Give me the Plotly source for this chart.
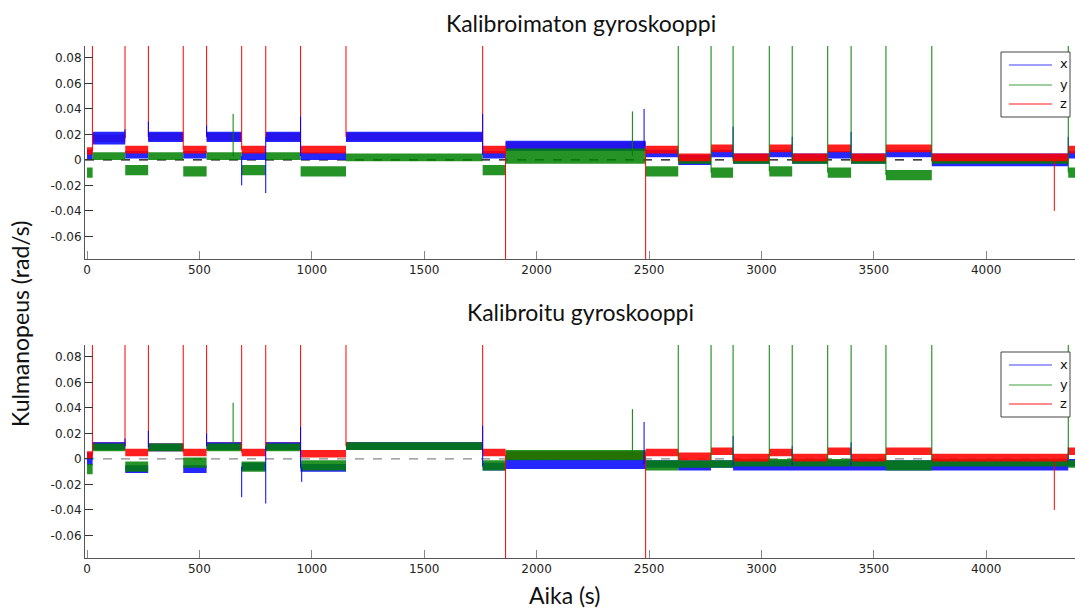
import numpy as np
import plotly.graph_objects as go

# ---------------- data ----------------
# segment boundaries (s), shared by all series
bounds = [0, 25, 170, 272, 428, 532, 688, 795, 950, 1152, 1760, 1862, 2485,
          2630, 2776, 2874, 3035, 3137, 3295, 3399, 3554, 3758, 4365, 4400]

# Uncalibrated (top): segment centre levels and noise half-widths (rad/s)
top_x_level = [0.004, 0.017, 0.004, 0.018, 0.004, 0.018, 0.003, 0.018, 0.003, 0.018, 0.004, 0.011,
               0.005, 0.000, 0.005, 0.001, 0.005, 0.001, 0.004, 0.001, 0.005, 0.000, 0.004]
top_x_noise = [0.004, 0.005, 0.003, 0.004, 0.003, 0.004, 0.003, 0.004, 0.003, 0.004, 0.003, 0.004,
               0.003, 0.004, 0.003, 0.004, 0.003, 0.004, 0.003, 0.004, 0.003, 0.005, 0.003]
top_y_level = [-0.010, 0.003, -0.008, 0.003, -0.009, 0.003, -0.008, 0.003, -0.009, 0.002, -0.008, 0.003,
               -0.009, -0.001, -0.010, -0.001, -0.009, -0.001, -0.010, -0.001, -0.012, -0.001, -0.010]
top_y_noise = [0.004, 0.003, 0.004, 0.003, 0.004, 0.003, 0.004, 0.003, 0.004, 0.003, 0.004, 0.006,
               0.004, 0.002, 0.004, 0.002, 0.004, 0.002, 0.004, 0.002, 0.004, 0.002, 0.004]
top_z_level = [0.007, 0.017, 0.008, 0.018, 0.008, 0.018, 0.008, 0.018, 0.008, 0.018, 0.008, 0.011,
               0.008, 0.002, 0.009, 0.002, 0.009, 0.002, 0.009, 0.002, 0.009, 0.002, 0.008]
top_z_noise = [0.003, 0.003, 0.003, 0.003, 0.003, 0.003, 0.003, 0.003, 0.003, 0.003, 0.003, 0.003,
               0.003, 0.003, 0.003, 0.003, 0.003, 0.003, 0.003, 0.003, 0.003, 0.003, 0.003]

# Calibrated (bottom)
bot_x_level = [0.000, 0.010, -0.008, 0.009, -0.008, 0.010, -0.006, 0.010, -0.007, 0.010, -0.006, -0.004,
               -0.004, -0.005, -0.004, -0.005, -0.005, -0.005, -0.005, -0.005, -0.005, -0.005, -0.003]
bot_x_noise = [0.005, 0.003, 0.003, 0.003, 0.003, 0.003, 0.003, 0.003, 0.003, 0.003, 0.003, 0.004,
               0.003, 0.004, 0.003, 0.004, 0.004, 0.004, 0.004, 0.004, 0.004, 0.004, 0.003]
bot_y_level = [-0.008, 0.009, -0.006, 0.009, -0.003, 0.009, -0.006, 0.009, -0.005, 0.010, -0.005, 0.003,
               -0.005, -0.004, -0.004, -0.003, -0.003, -0.003, -0.003, -0.003, -0.005, -0.003, -0.004]
bot_y_noise = [0.004, 0.003, 0.004, 0.003, 0.004, 0.003, 0.004, 0.003, 0.004, 0.003, 0.004, 0.004,
               0.004, 0.003, 0.003, 0.003, 0.003, 0.003, 0.003, 0.003, 0.004, 0.003, 0.003]
bot_z_level = [0.003, 0.010, 0.005, 0.009, 0.005, 0.010, 0.005, 0.010, 0.004, 0.010, 0.005, 0.003,
               0.005, 0.002, 0.006, 0.001, 0.005, 0.001, 0.006, 0.001, 0.006, 0.001, 0.006]
bot_z_noise = [0.003, 0.003, 0.003, 0.003, 0.003, 0.003, 0.003, 0.003, 0.003, 0.003, 0.003, 0.003,
               0.003, 0.003, 0.003, 0.003, 0.003, 0.003, 0.003, 0.003, 0.003, 0.003, 0.003]

# single-sample spikes: times (s) and peak values (rad/s); 0.1 = beyond top, -0.1 = beyond bottom
top_z_spike_t = [24, 169, 273, 428, 532, 688, 795, 950, 1152, 1760, 1862, 2485, 4303]
top_z_spike_v = [0.1, 0.1, 0.1, 0.1, 0.1, 0.1, 0.1, 0.1, 0.1, 0.1, -0.1, -0.1, -0.04]
top_y_spike_t = [650, 2426, 2630, 2776, 2874, 3035, 3137, 3295, 3399, 3554, 3758, 4365]
top_y_spike_v = [0.036, 0.038, 0.1, 0.1, 0.1, 0.1, 0.1, 0.1, 0.1, 0.1, 0.1, 0.1]
top_x_spike_t = [169, 273, 532, 688, 795, 950, 1760, 2478, 2874, 3137, 3399, 4365]
top_x_spike_v = [0.024, 0.030, 0.027, -0.020, -0.026, 0.034, 0.036, 0.040, 0.026, 0.018, 0.022, 0.018]

bot_z_spike_t = [24, 169, 273, 428, 532, 688, 795, 950, 1152, 1760, 1862, 2485, 4303]
bot_z_spike_v = [0.1, 0.1, 0.1, 0.1, 0.1, 0.1, 0.1, 0.1, 0.1, 0.1, -0.1, -0.1, -0.04]
bot_y_spike_t = [650, 2426, 2630, 2776, 2874, 3035, 3137, 3295, 3399, 3554, 3758, 4365]
bot_y_spike_v = [0.044, 0.039, 0.1, 0.1, 0.1, 0.1, 0.1, 0.1, 0.1, 0.1, 0.1, 0.1]
bot_x_spike_t = [169, 273, 532, 688, 795, 950, 955, 1760, 2478, 2874, 3137, 3399, 4365]
bot_x_spike_v = [0.016, 0.022, 0.020, -0.030, -0.035, 0.025, -0.018, 0.026, 0.029, 0.018, 0.010, 0.013, 0.009]

x_ticks = [0, 500, 1000, 1500, 2000, 2500, 3000, 3500, 4000]
y_ticks = [-0.06, -0.04, -0.02, 0, 0.02, 0.04, 0.06, 0.08]
y_tick_labels = ["-0.06", "-0.04", "-0.02", "0", "0.02", "0.04", "0.06", "0.08"]
series_names = ["x", "y", "z"]
titles = ["Kalibroimaton gyroskooppi", "Kalibroitu gyroskooppi"]

# ---------------- figure ----------------
W, H = 1075, 609
colors = {"x": "#0000ff", "y": "#008000", "z": "#ff0000"}
fills = {"x": "rgba(20,20,255,0.92)", "y": "rgba(0,128,0,0.85)", "z": "rgba(255,0,0,0.88)"}
legend_cols = {"x": "#7f7fff", "y": "#7fbf7f", "z": "#ff6666"}

b = np.array(bounds, dtype=float)


def band_trace(level, noise, name, xa, ya, keep=None):
    """Noise band of a series: one closed polygon per segment."""
    xs, ys = [], []
    for i in range(len(level)):
        if keep is not None and not keep[i]:
            continue
        lo, hi = level[i] - noise[i], level[i] + noise[i]
        xs += [b[i], b[i + 1], b[i + 1], b[i], b[i], None]
        ys += [hi, hi, lo, lo, hi, None]
    return go.Scatter(x=xs, y=ys, fill="toself", fillcolor=fills[name], mode="lines",
                      line=dict(width=0), hoverinfo="skip", showlegend=False,
                      xaxis=xa, yaxis=ya)


def spike_trace(level, ts, vs, name, xa, ya):
    xs, ys = [], []
    for t, v in zip(ts, vs):
        i = min(max(np.searchsorted(b, t, side="right") - 1, 0), len(level) - 1)
        xs += [t, t, None]
        ys += [level[i], v, None]
    return go.Scatter(x=xs, y=ys, mode="lines", line=dict(color=colors[name], width=1),
                      hoverinfo="skip", showlegend=False, xaxis=xa, yaxis=ya)


fig = go.Figure()

panels = [
    ("x", "y", {"x": (top_x_level, top_x_noise, top_x_spike_t, top_x_spike_v),
                "y": (top_y_level, top_y_noise, top_y_spike_t, top_y_spike_v),
                "z": (top_z_level, top_z_noise, top_z_spike_t, top_z_spike_v)}, "black"),
    ("x2", "y2", {"x": (bot_x_level, bot_x_noise, bot_x_spike_t, bot_x_spike_v),
                  "y": (bot_y_level, bot_y_noise, bot_y_spike_t, bot_y_spike_v),
                  "z": (bot_z_level, bot_z_noise, bot_z_spike_t, bot_z_spike_v)}, "#888888"),
]

xr = [-9, 4395]
for xa, ya, d, zc in panels:
    fig.add_trace(go.Scatter(x=xr, y=[0, 0], mode="lines",
                             line=dict(color=zc, width=1.2, dash="dash"),
                             hoverinfo="skip", showlegend=False, xaxis=xa, yaxis=ya))
    zl, zn = d["z"][0], d["z"][1]
    xl, yl = d["x"][0], d["y"][0]
    # z lies under x / y where its level coincides with theirs; elsewhere it is drawn on top
    z_on_top = [not (abs(zl[i] - xl[i]) < 1e-9 or abs(zl[i] - yl[i]) < 1e-9) for i in range(len(zl))]
    z_hidden = [not k for k in z_on_top]
    fig.add_trace(band_trace(zl, zn, "z", xa, ya, keep=z_hidden))
    fig.add_trace(band_trace(d["x"][0], d["x"][1], "x", xa, ya))
    fig.add_trace(band_trace(d["y"][0], d["y"][1], "y", xa, ya))
    fig.add_trace(band_trace(zl, zn, "z", xa, ya, keep=z_on_top))
    for n in ["z", "x", "y"]:
        lv, nz, st, sv = d[n]
        fig.add_trace(spike_trace(lv, st, sv, n, xa, ya))

top_dom = [1 - 259 / H, 1 - 46 / H]
bot_dom = [1 - 558 / H, 1 - 345 / H]
yr = [-0.0777, 0.0893]

axis_font = dict(family="DejaVu Sans, Liberation Sans, sans-serif", size=12, color="#222222")
common_x = dict(range=xr, tickvals=x_ticks, ticks="inside", ticklen=8, tickcolor="#888888",
                showline=True, linecolor="#555555", linewidth=1, showgrid=False, zeroline=False,
                tickfont=axis_font, domain=[85 / W, 1.0], automargin=False)
common_y = dict(range=yr, tickvals=y_ticks, ticktext=y_tick_labels, ticks="inside", ticklen=8,
                tickcolor="#333333", showline=True, linecolor="#555555", linewidth=1,
                showgrid=False, zeroline=False, tickfont=axis_font, automargin=False)

fig.update_layout(
    width=W, height=H, margin=dict(l=0, r=0, t=0, b=0, pad=0),
    paper_bgcolor="white", plot_bgcolor="white", showlegend=False,
    xaxis=dict(common_x, anchor="y"),
    yaxis=dict(common_y, domain=top_dom, anchor="x"),
    xaxis2=dict(common_x, anchor="y2"),
    yaxis2=dict(common_y, domain=bot_dom, anchor="x2"),
)

title_font = dict(family="Lato, Open Sans, sans-serif", size=23, color="#111111")
annotations = [
    dict(text=titles[0], x=581 / W, y=1 - 23 / H, xref="paper", yref="paper",
         showarrow=False, font=title_font, xanchor="center", yanchor="middle"),
    dict(text=titles[1], x=580 / W, y=1 - 312 / H, xref="paper", yref="paper",
         showarrow=False, font=title_font, xanchor="center", yanchor="middle"),
    dict(text="Aika (s)", x=564 / W, y=1 - 595 / H, xref="paper", yref="paper",
         showarrow=False, font=title_font, xanchor="center", yanchor="middle"),
    dict(text="Kulmanopeus (rad/s)", x=20 / W, y=1 - 324 / H, xref="paper", yref="paper",
         showarrow=False, font=title_font, textangle=-90, xanchor="center", yanchor="middle"),
]

shapes = []
for y0 in (52, 352):
    shapes.append(dict(type="rect", xref="paper", yref="paper",
                       x0=1001 / W, x1=1070 / W, y0=1 - y0 / H, y1=1 - (y0 + 65) / H,
                       line=dict(color="#444444", width=1), fillcolor="white", layer="above"))
    for k, n in enumerate(series_names):
        yy = y0 + [13, 33, 52][k]
        shapes.append(dict(type="line", xref="paper", yref="paper",
                           x0=1009 / W, x1=1052 / W, y0=1 - yy / H, y1=1 - yy / H,
                           line=dict(color=legend_cols[n], width=1.5), layer="above"))
        annotations.append(dict(text=n, x=1058 / W, y=1 - (yy - 1) / H, xref="paper", yref="paper",
                                showarrow=False, xanchor="left", yanchor="middle",
                                font=dict(family="DejaVu Sans, Liberation Sans, sans-serif", size=13,
                                          color="#111111")))

fig.update_layout(annotations=annotations, shapes=shapes)
fig.write_html("out.html", config={"displayModeBar": False},
               post_script="document.body.style.margin='0px';document.body.style.padding='0px';"
                           "document.documentElement.style.overflow='hidden';")
